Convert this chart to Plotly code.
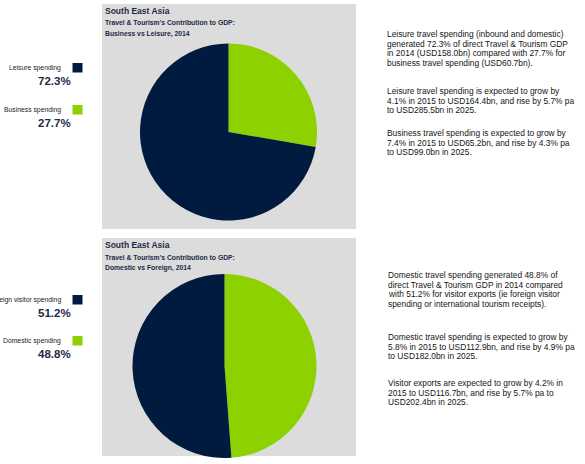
import plotly.graph_objects as go

W, H = 585, 464

# data
region = "South East Asia"
subtitle = "Travel & Tourism's Contribution to GDP:"

top_title = "Business vs Leisure, 2014"
top_labels = ["Business spending", "Leisure spending"]
top_values = [27.7, 72.3]

bottom_title = "Domestic vs Foreign, 2014"
bottom_labels = ["Domestic spending", "Foreign visitor spending"]
bottom_values = [48.8, 51.2]

top_notes = [
    ["Leisure travel spending (inbound and domestic)",
     "generated 72.3% of direct Travel & Tourism GDP",
     "in 2014 (USD158.0bn) compared with 27.7% for",
     "business travel spending (USD60.7bn)."],
    ["Leisure travel spending is expected to grow by",
     "4.1% in 2015 to USD164.4bn, and rise by 5.7% pa",
     "to USD285.5bn in 2025."],
    ["Business travel spending is expected to grow by",
     "7.4% in 2015 to USD65.2bn, and rise by 4.3% pa",
     "to USD99.0bn in 2025."],
]
bottom_notes = [
    ["Domestic travel spending generated 48.8% of",
     "direct Travel & Tourism GDP in 2014 compared",
     "with 51.2% for visitor exports (ie foreign visitor",
     "spending or international tourism receipts)."],
    ["Domestic travel spending is expected to grow by",
     "5.8% in 2015 to USD112.9bn, and rise by 4.9% pa",
     "to USD182.0bn in 2025."],
    ["Visitor exports are expected to grow by 4.2% in",
     "2015 to USD116.7bn, and rise by 5.7% pa to",
     "USD202.4bn in 2025."],
]

NAVY = "#001a40"
GREEN = "#8ed100"
PANEL = "#dcdcdc"
TXT = "#1c2a48"
FONT = "Liberation Sans, Arial, sans-serif"


def px(x):
    return x / W


def py(y):
    return 1 - y / H


fig = go.Figure()

# pies: first slice (green) starts at 12 o'clock going clockwise
for labels, values, (x0, x1, y0, y1) in [
    (top_labels, top_values, (140, 317, 43, 221)),
    (bottom_labels, bottom_values, (132, 317, 274, 458)),
]:
    fig.add_trace(go.Pie(labels=labels, values=values, sort=False,
                         direction="clockwise", rotation=0,
                         marker=dict(colors=[GREEN, NAVY], line=dict(width=0)),
                         textinfo="none", hoverinfo="label+percent",
                         showlegend=False,
                         domain=dict(x=[px(x0), px(x1)], y=[py(y1), py(y0)])))

shapes = []
annotations = []


def note(x, y, text, size, color=TXT, bold=False, anchor="left"):
    if bold:
        text = f"<b>{text}</b>"
    annotations.append(dict(x=px(x), y=py(y), xref="paper", yref="paper",
                            text=text, showarrow=False, xanchor=anchor,
                            yanchor="middle",
                            font=dict(family=FONT, size=size, color=color)))


def rect(x0, y0, x1, y1, color, layer="below"):
    shapes.append(dict(type="rect", xref="paper", yref="paper",
                       x0=px(x0), x1=px(x1), y0=py(y1), y1=py(y0),
                       fillcolor=color, line=dict(width=0), layer=layer))


panels = [
    (4, 229, top_title, top_labels, top_values, [68, 110], top_notes, [34, 91, 133], 385),
    (238, 456, bottom_title, bottom_labels, bottom_values, [300, 341], bottom_notes, [275, 337, 383], 386),
]
for top, bot, title, labels, values, leg_y, notes, note_y, note_x in panels:
    rect(102, top, 356, bot, PANEL)
    note(103, top + 7.5, region, 8.5, bold=True)
    note(103, top + 19, subtitle, 6.8, bold=True)
    note(103, top + 30, title, 6.8, bold=True)

    # side legend: dark slice listed first
    for (lab, val, col), ly in zip([(labels[1], values[1], NAVY),
                                    (labels[0], values[0], GREEN)], leg_y):
        note(63, ly, lab, 6.8, color="#222222", anchor="right")
        rect(72.5, ly - 5, 82.5, ly + 4.5, col, layer="above")
        note(73, ly + 13, f"{val:.1f}%", 11.5, color=TXT, bold=True, anchor="right")

    for lines, y0 in zip(notes, note_y):
        for i, line in enumerate(lines):
            note(note_x, y0 + i * 9.7, line, 8.4, color="#151515")

fig.update_layout(width=W, height=H, margin=dict(l=0, r=0, t=0, b=0),
                  paper_bgcolor="white", plot_bgcolor="white",
                  shapes=shapes, annotations=annotations)

# drop the browser's default body margin so the figure sits at the page corner
fig.write_html("out.html", config={"displayModeBar": False},
               post_script="document.body.style.margin='0';")
